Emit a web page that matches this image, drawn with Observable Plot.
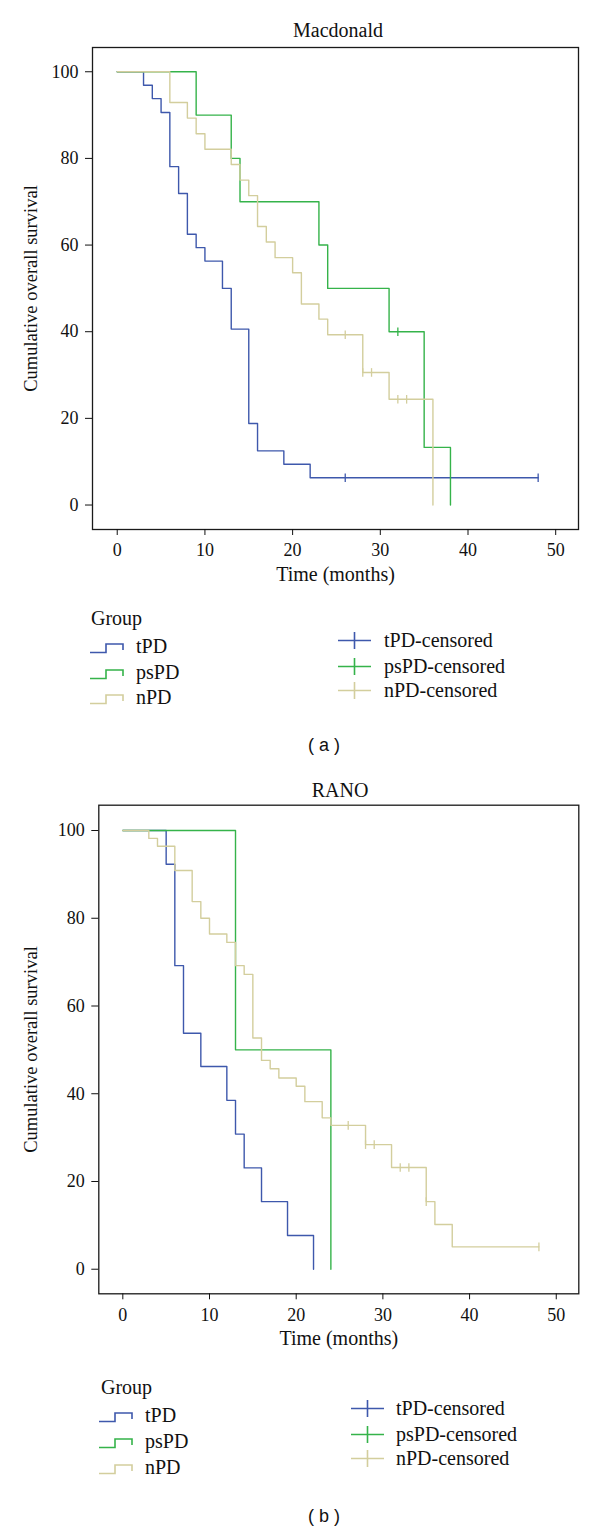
<!DOCTYPE html>
<html><head><meta charset="utf-8">
<script src="https://cdn.jsdelivr.net/npm/d3@7"></script>
<script src="https://cdn.jsdelivr.net/npm/@observablehq/plot@0.6"></script>
<style>
body{margin:0;background:#fff;}
#page{position:relative;width:600px;height:1529px;overflow:hidden;font-family:"Liberation Serif",serif;color:#111;background:#fff;}
.abs{position:absolute;white-space:nowrap;line-height:1;}
.c{transform:translate(-50%,-50%);}
.l{transform:translate(0,-50%);}
.plot{position:absolute;left:0;}
</style></head><body><div id="page"></div>
<script>
// ---------- data ----------
const groups = ["tPD", "psPD", "nPD"];
const groupColors = ["#3e58ac", "#35b34a", "#d3ce9d"];
const censLabels = ["tPD-censored", "psPD-censored", "nPD-censored"];
const xTicks = [0, 10, 20, 30, 40, 50];
const yTicks = [0, 20, 40, 60, 80, 100];
const panelTitles = ["Macdonald", "RANO"];
const panelTags = ["( a )", "( b )"];
const xLabel = "Time (months)";
const yLabel = "Cumulative overall survival";
const legendTitle = "Group";

// Macdonald
const macTpdTime = [0, 3, 4, 5, 6, 7, 8, 9, 10, 12, 13, 15, 16, 19, 22, 48];
const macTpdSurv = [100, 96.9, 93.8, 90.6, 78.1, 71.9, 62.5, 59.4, 56.3, 50, 40.6, 18.8, 12.5, 9.4, 6.3, 6.3];
const macTpdCensTime = [26, 48];
const macTpdCensSurv = [6.3, 6.3];
const macPspdTime = [0, 9, 13, 14, 23, 24, 31, 35, 38];
const macPspdSurv = [100, 90, 80, 70, 60, 50, 40, 13.3, 0];
const macPspdCensTime = [32];
const macPspdCensSurv = [40];
const macNpdTime = [0, 6, 8, 9, 10, 13, 14, 15, 16, 17, 18, 20, 21, 23, 24, 28, 31, 36];
const macNpdSurv = [100, 92.9, 89.3, 85.7, 82.1, 78.6, 75, 71.4, 64.3, 60.7, 57.1, 53.6, 46.4, 42.9, 39.3, 30.6, 24.4, 0];
const macNpdCensTime = [26, 28, 29, 32, 33];
const macNpdCensSurv = [39.3, 30.6, 30.6, 24.4, 24.4];

// RANO
const ranoTpdTime = [0, 5, 6, 7, 9, 12, 13, 14, 16, 19, 22];
const ranoTpdSurv = [100, 92.3, 69.2, 53.8, 46.2, 38.5, 30.8, 23.1, 15.4, 7.7, 0];
const ranoTpdCensTime = [];
const ranoTpdCensSurv = [];
const ranoPspdTime = [0, 13, 24];
const ranoPspdSurv = [100, 50, 0];
const ranoPspdCensTime = [];
const ranoPspdCensSurv = [];
const ranoNpdTime = [0, 3, 4, 6, 8, 9, 10, 12, 13, 14, 15, 16, 17, 18, 20, 21, 23, 24, 28, 31, 35, 36, 38, 48];
const ranoNpdSurv = [100, 98.2, 96.4, 90.9, 83.8, 80.0, 76.4, 74.5, 69.2, 67.2, 52.7, 47.6, 45.7, 43.6, 41.7, 38.2, 34.5, 32.8, 28.4, 23.2, 15.4, 10.2, 5.1, 5.1];
const ranoNpdCensTime = [26, 28, 29, 32, 33, 35, 48];
const ranoNpdCensSurv = [32.8, 28.4, 28.4, 23.2, 23.2, 15.4, 5.1];

// ---------- build ----------
const rows = (group, times, surv) => times.map((t, i) => ({group, t, s: surv[i]}));

const panels = [
  {
    lines: [
      ...rows("tPD", macTpdTime, macTpdSurv),
      ...rows("psPD", macPspdTime, macPspdSurv),
      ...rows("nPD", macNpdTime, macNpdSurv)
    ],
    cens: [
      ...rows("tPD", macTpdCensTime, macTpdCensSurv),
      ...rows("psPD", macPspdCensTime, macPspdCensSurv),
      ...rows("nPD", macNpdCensTime, macNpdCensSurv)
    ],
    top: 0, height: 600, mt: 47, mb: 71, ml: 92, mr: 22,
    xDomain: [-2.82, 52.6], yDomain: [-5.65, 105.6],
    titleX: 338, titleY: 30,
    legendTitle: [91, 618], legendSym: [90, 136], legendY: [646, 672, 697],
    censSym: [338, 384], censY: [640, 666, 690],
    tag: [324, 745]
  },
  {
    lines: [
      ...rows("tPD", ranoTpdTime, ranoTpdSurv),
      ...rows("psPD", ranoPspdTime, ranoPspdSurv),
      ...rows("nPD", ranoNpdTime, ranoNpdSurv)
    ],
    cens: [
      ...rows("tPD", ranoTpdCensTime, ranoTpdCensSurv),
      ...rows("psPD", ranoPspdCensTime, ranoPspdCensSurv),
      ...rows("nPD", ranoNpdCensTime, ranoNpdCensSurv)
    ],
    top: 760, height: 600, mt: 44.7, mb: 66.7, ml: 98.3, mr: 21.7,
    xDomain: [-2.77, 52.6], yDomain: [-5.6, 105.77],
    titleX: 340, titleY: 790,
    legendTitle: [101, 1387], legendSym: [99, 145], legendY: [1415, 1441, 1467],
    censSym: [351, 396], censY: [1408, 1434, 1458],
    tag: [324, 1516]
  }
];

const page = document.getElementById("page");
const vbar = {draw(ctx) { ctx.moveTo(0, -4.3); ctx.lineTo(0, 4.3); }};

function addText(txt, x, y, cls, extra = "") {
  const d = document.createElement("div");
  d.className = "abs " + cls;
  d.style.cssText += `left:${x}px;top:${y}px;${extra}`;
  d.textContent = txt;
  page.appendChild(d);
}
function addSvg(html, x, y, w, h) {
  const d = document.createElement("div");
  d.className = "abs";
  d.style.cssText += `left:${x}px;top:${y - h / 2}px;width:${w}px;height:${h}px;`;
  d.innerHTML = `<svg width="${w}" height="${h}">${html}</svg>`;
  page.appendChild(d);
}

panels.forEach((p, pi) => {
  const chart = Plot.plot({
    width: 600,
    height: p.height,
    marginTop: p.mt,
    marginBottom: p.mb,
    marginLeft: p.ml,
    marginRight: p.mr,
    style: {fontFamily: "'Liberation Serif', serif", fontSize: "18px", color: "#111", background: "white"},
    x: {domain: p.xDomain},
    y: {domain: p.yDomain},
    color: {domain: groups, range: groupColors},
    marks: [
      Plot.line(p.lines, {x: "t", y: "s", z: "group", stroke: "group", curve: "step-after", strokeWidth: 1.4}),
      Plot.dot(p.cens, {x: "t", y: "s", stroke: "group", symbol: vbar, fill: "none", strokeWidth: 1.3, r: 4}),
      Plot.frame({stroke: "#1a1a1a", strokeWidth: 1.3}),
      Plot.axisX({ticks: xTicks, tickSize: 6, tickPadding: 8, fontSize: 18, label: null}),
      Plot.axisY({ticks: yTicks, tickSize: 7, tickPadding: 7, fontSize: 18, label: null}),
      Plot.text([xLabel], {frameAnchor: "bottom", dy: 51, fontSize: 20, fill: "#111"}),
      Plot.text([yLabel], {frameAnchor: "left", textAnchor: "middle", rotate: -90, dx: -(p.ml - 31), fontSize: 18.5, fill: "#111"})
    ]
  });
  chart.classList.add("plot");
  chart.style.top = p.top + "px";
  page.appendChild(chart);

  addText(panelTitles[pi], p.titleX, p.titleY, "c", "font-size:20px;");
  addText(legendTitle, p.legendTitle[0], p.legendTitle[1], "l", "font-size:20px;");
  groups.forEach((g, gi) => {
    const col = groupColors[gi];
    addSvg(`<path d="M0,9.5H16V1H33V7" fill="none" stroke="${col}" stroke-width="1.6"/>`, p.legendSym[0], p.legendY[gi], 34, 11);
    addText(g, p.legendSym[1], p.legendY[gi], "l", "font-size:20px;");
    addSvg(`<path d="M0,8.5H33M16.5,0V17" fill="none" stroke="${col}" stroke-width="1.6"/>`, p.censSym[0], p.censY[gi], 34, 17);
    addText(censLabels[gi], p.censSym[1], p.censY[gi], "l", "font-size:20px;");
  });
  addText(panelTags[pi], p.tag[0], p.tag[1], "c", "font-family:'Liberation Sans',Arial,sans-serif;font-size:18px;");
});
</script></body></html>
